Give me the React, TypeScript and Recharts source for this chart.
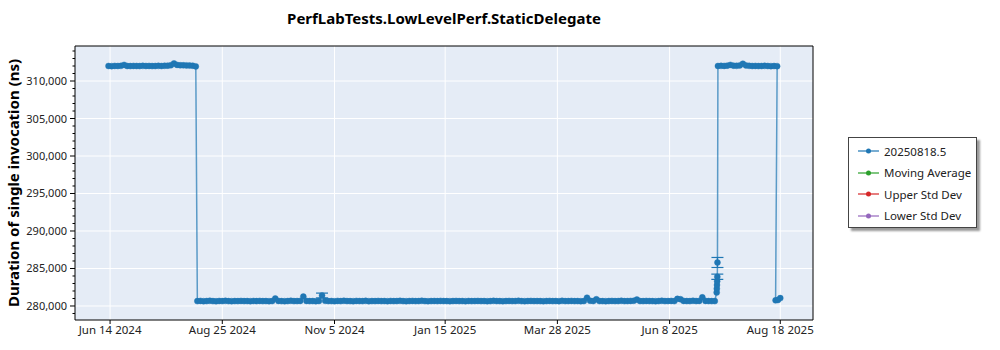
import React from "react";
import { ComposedChart, Line, XAxis, YAxis, CartesianGrid, ReferenceLine, ErrorBar } from "recharts";

const FONT = "'Segoe UI', 'Noto Sans', 'Open Sans', sans-serif";
const BLUE = "#1f77b4";

// days after Jun 14 2024
const days = [
  -1, 1, 3, 5, 7, 9, 11, 13, 15, 17,
  19, 21, 23, 25, 27, 29, 31, 33, 35, 37,
  39, 41, 43, 45, 47, 49, 51, 53, 55,
  56, 58, 60, 62, 64, 66, 68, 70, 72, 74,
  76, 78, 80, 82, 84, 86, 88, 90, 92, 94,
  96, 98, 100, 102, 104, 106, 108, 110, 112, 114,
  116, 118, 120, 122, 124, 126, 128, 130, 132, 134,
  136, 138, 140, 142, 144, 146, 148, 150, 152, 154,
  156, 158, 160, 162, 164, 166, 168, 170, 172, 174,
  176, 178, 180, 182, 184, 186, 188, 190, 192, 194,
  196, 198, 200, 202, 204, 206, 208, 210, 212, 214,
  216, 218, 220, 222, 224, 226, 228, 230, 232, 234,
  236, 238, 240, 242, 244, 246, 248, 250, 252, 254,
  256, 258, 260, 262, 264, 266, 268, 270, 272, 274,
  276, 278, 280, 282, 284, 286, 288, 290, 292, 294,
  296, 298, 300, 302, 304, 306, 308, 310, 312, 314,
  316, 318, 320, 322, 324, 326, 328, 330, 332, 334,
  336, 338, 340, 342, 344, 346, 348, 350, 352, 354,
  356, 358, 360, 362, 364, 366, 368, 370, 372, 374,
  376, 378, 380, 382, 384, 386, 388,
  389.2, 389.3, 389.4, 389.5, 389.6, 389.7,
  390, 392, 394, 396, 398, 400, 402, 404, 406, 408,
  410, 412, 414, 416, 418, 420, 422, 424, 426, 428,
  427, 428.5, 430,
];

// duration of single invocation, ns
const durations = [
  312000, 311980, 312010, 312000, 312020, 312150, 312000, 311990, 312010, 312000,
  311990, 312020, 312000, 312010, 311990, 312000, 312020, 312000, 312030, 312050,
  312100, 312350, 312150, 312100, 312090, 312080, 312060, 312040, 311950,
  280650, 280680, 280640, 280660, 280700, 280650, 280630, 280670, 280650, 280690,
  280650, 280640, 280660, 280650, 280680, 280650, 280660, 280640, 280670, 280650,
  280680, 280650, 280660, 280640, 280660, 281000, 280680, 280650, 280640, 280660,
  280700, 280650, 280660, 280680, 281250, 280680, 280650, 280660, 280640, 280670,
  281400, 280690, 280650, 280660, 280640, 280680, 280650, 280700, 280660, 280650,
  280640, 280680, 280660, 280650, 280690, 280640, 280660, 280650, 280680, 280650,
  280660, 280640, 280670, 280650, 280660, 280690, 280650, 280640, 280660, 280680,
  280650, 280660, 280700, 280650, 280640, 280660, 280670, 280650, 280680, 280660,
  280650, 280640, 280660, 280680, 280650, 280660, 280640, 280670, 280650, 280660,
  280680, 280650, 280660, 280640, 280650, 280690, 280660, 280650, 280640, 280660,
  280680, 280650, 280660, 280700, 280650, 280640, 280660, 280680, 280650, 280660,
  280650, 280640, 280660, 280680, 280650, 280660, 280640, 280690, 280650, 280660,
  280680, 280650, 280660, 280640, 280660, 281100, 280700, 280660, 280900, 280660,
  280650, 280640, 280660, 280680, 280650, 280660, 280700, 280650, 280660, 280680,
  280700, 280850, 280660, 280650, 280680, 280660, 280650, 280640, 280660, 280700,
  280650, 280660, 280680, 280650, 280950, 280900, 280680, 280660, 280650, 280700,
  280660, 280680, 281150, 280680, 280660, 280650, 280650,
  281800, 282300, 282800, 283300, 283900, 285800,
  312000, 312020, 312010, 312050, 312150, 312050, 312020, 312080, 312300, 312080,
  312020, 312000, 312010, 311990, 312000, 312020, 312000, 311980, 312000, 311980,
  280750, 280800, 281050,
];

const errorDays = [136, 389.6, 389.7];
const errorSizes = [320, 350, 670];

const tickDays = [0, 72, 144, 215, 287, 359, 430];
const tickLabels = ["Jun 14 2024", "Aug 25 2024", "Nov 5 2024", "Jan 15 2025", "Mar 28 2025", "Jun 8 2025", "Aug 18 2025"];

const yMajor = [280000, 285000, 290000, 295000, 300000, 305000, 310000];
const yTicks = Array.from({ length: 36 }, (_, i) => 279000 + i * 1000);

const legendItems = [
  { name: "20250818.5", color: "#1f77b4" },
  { name: "Moving Average", color: "#2ca02c" },
  { name: "Upper Std Dev", color: "#d62728" },
  { name: "Lower Std Dev", color: "#9467bd" },
];

const X_DOMAIN: [number, number] = [-22.5, 451];
const Y_DOMAIN: [number, number] = [278133, 314667];

const data = days.map((d, i) => ({
  day: d,
  value: durations[i],
  err: errorSizes[errorDays.indexOf(d)],
}));

const YTick = (props: any) => {
  const { y, payload } = props;
  const major = payload.value % 5000 === 0;
  return (
    <g>
      <line x1={major ? 70 : 72.5} x2={75} y1={y} y2={y} stroke="#000" />
      {major && (
        <text x={67} y={y} dy={4} textAnchor="end" fontSize={11} fill="#222" fontFamily={FONT}>
          {payload.value.toLocaleString("en-US")}
        </text>
      )}
    </g>
  );
};

export default function App() {
  return (
    <div style={{ position: "absolute", left: 0, top: 0, width: 1000, height: 350, background: "#fff", fontFamily: FONT }}>
      <div style={{ position: "absolute", left: 75, width: 738, top: 8, textAlign: "center", fontSize: 15, fontWeight: 700, color: "#000" }}>
        PerfLabTests.LowLevelPerf.StaticDelegate
      </div>
      <ComposedChart width={1000} height={350} data={data} margin={{ top: 46, right: 187, bottom: 0, left: 0 }}>
        <CartesianGrid
          fill="#e5ecf6"
          stroke="#fff"
          strokeWidth={1}
          horizontalValues={yMajor}
          verticalValues={tickDays}
        />
        <XAxis
          dataKey="day"
          type="number"
          domain={X_DOMAIN}
          allowDataOverflow
          ticks={tickDays}
          interval={0}
          tickFormatter={(v: number) => tickLabels[tickDays.indexOf(v)] ?? ""}
          height={30}
          tickSize={4}
          tickMargin={2}
          axisLine={{ stroke: "#000" }}
          tickLine={{ stroke: "#000" }}
          tick={{ fontSize: 11.5, fill: "#222", fontFamily: FONT }}
        />
        <YAxis
          type="number"
          domain={Y_DOMAIN}
          allowDataOverflow
          ticks={yTicks}
          interval={0}
          width={75}
          tickLine={false}
          axisLine={{ stroke: "#000" }}
          tick={<YTick />}
          label={{
            value: "Duration of single invocation (ns)",
            angle: -90,
            position: "insideLeft",
            dx: 9,
            dy: 0,
            style: { textAnchor: "middle", fontSize: 15, fontWeight: 700, fill: "#000", fontFamily: FONT },
          }}
        />
        <ReferenceLine x={X_DOMAIN[1]} stroke="#000" />
        <ReferenceLine y={Y_DOMAIN[1]} stroke="#000" />
        <Line
          dataKey="value"
          type="linear"
          stroke={BLUE}
          strokeWidth={1.5}
          strokeOpacity={0.7}
          dot={{ r: 3, fill: BLUE, stroke: BLUE, strokeWidth: 0.6 }}
          activeDot={false}
          isAnimationActive={false}
        >
          <ErrorBar dataKey="err" direction="y" width={6} stroke={BLUE} strokeWidth={1.2} />
        </Line>
      </ComposedChart>
      <div
        style={{
          position: "absolute",
          left: 848,
          top: 137,
          width: 127,
          height: 89,
          border: "1px solid #444",
          boxShadow: "3px 3px 2px #999",
          background: "#fff",
        }}
      >
        {legendItems.map((item, i) => (
          <div
            key={item.name}
            style={{ position: "absolute", left: 9, top: 3 + i * 21.5, height: 20, display: "flex", alignItems: "center", whiteSpace: "nowrap" }}
          >
            <svg width={22} height={10} style={{ marginRight: 4, flexShrink: 0 }}>
              <line x1={0} x2={21} y1={5} y2={5} stroke={item.color} strokeWidth={1.2} />
              <circle cx={10.5} cy={5} r={2.5} fill={item.color} />
            </svg>
            <span style={{ fontSize: 11.5, color: "#222" }}>{item.name}</span>
          </div>
        ))}
      </div>
    </div>
  );
}
